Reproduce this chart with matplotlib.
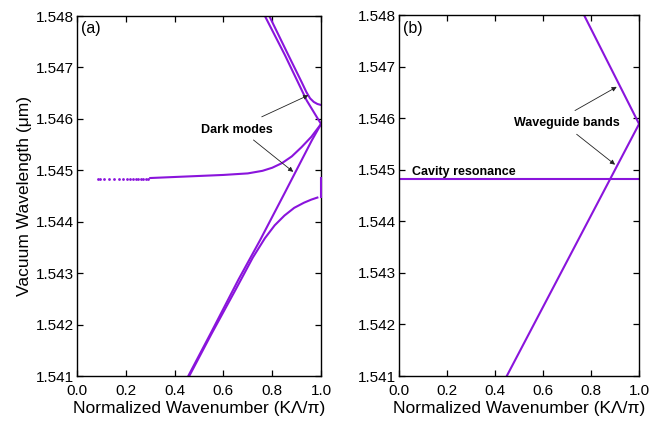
import matplotlib
matplotlib.use("Agg")
import matplotlib.pyplot as plt

plt.rcParams['font.family'] = ['Liberation Sans', 'DejaVu Sans']

PURPLE = '#8A14DC'

# ---------------- data: panel (a) ----------------
a_line1_k = [0.456, 0.55, 0.661, 0.75, 0.85, 0.962, 1.0]
a_line1_l = [1.5410, 1.54185, 1.54287, 1.54364, 1.54455, 1.54558, 1.5459]

a_line2_k = [0.46, 0.55, 0.65, 0.72, 0.77, 0.81, 0.85, 0.89, 0.93, 0.96, 0.985]
a_line2_l = [1.5410, 1.54181, 1.54268, 1.5433, 1.54368, 1.54393, 1.54412,
             1.54427, 1.54437, 1.54443, 1.54447]

a_mid_dots_k = [0.085, 0.094, 0.112, 0.132, 0.153, 0.173, 0.19, 0.204, 0.217,
                0.231, 0.242, 0.251, 0.261, 0.272, 0.283, 0.292]
a_mid_dots_l = [1.54484] * len(a_mid_dots_k)

a_mid_k = [0.30, 0.4, 0.5, 0.6, 0.7, 0.76, 0.8, 0.84, 0.88, 0.92, 0.96, 1.0]
a_mid_l = [1.54485, 1.54487, 1.54489, 1.54491, 1.54494, 1.54499, 1.54505,
           1.54514, 1.54527, 1.54545, 1.54565, 1.5459]

a_upA_k = [0.770, 0.852, 0.941, 1.0]
a_upA_l = [1.5480, 1.54724, 1.54636, 1.5459]

a_upB_k = [0.788, 0.866, 0.921, 0.94, 0.955, 0.97, 0.985, 1.0]
a_upB_l = [1.5480, 1.54724, 1.54671, 1.54652, 1.5464, 1.54633, 1.54629, 1.54627]

a_edge_k = [1.0, 1.0]
a_edge_l = [1.54448, 1.54485]

# ---------------- data: panel (b) ----------------
b_cav_k = [0.0, 1.0]
b_cav_l = [1.54482, 1.54482]

b_wg_k = [0.449, 1.0, 0.771]
b_wg_l = [1.5410, 1.54589, 1.5480]

x_ticks = [0.0, 0.2, 0.4, 0.6, 0.8, 1.0]
y_ticks = [1.541, 1.542, 1.543, 1.544, 1.545, 1.546, 1.547, 1.548]

fig = plt.figure(figsize=(6.56, 4.22), dpi=100)
axa = fig.add_axes([0.1174, 0.109, 0.372, 0.853])
axb = fig.add_axes([0.6082, 0.109, 0.366, 0.855])

LW = 1.5

def style(ax):
    ax.set_xlim(0, 1)
    ax.set_ylim(1.541, 1.548)
    ax.set_xticks(x_ticks)
    ax.set_xticklabels([f"{v:.1f}" for v in x_ticks])
    ax.set_yticks(y_ticks)
    ax.set_yticklabels([f"{v:.3f}" for v in y_ticks])
    ax.tick_params(direction='in', top=True, right=True, length=4.5, width=0.9,
                   labelsize=11)
    ax.tick_params(axis='x', pad=6)
    ax.tick_params(axis='y', pad=2)
    for s in ax.spines.values():
        s.set_linewidth(1.0)
    ax.set_xlabel('Normalized Wavenumber (K\u039b/\u03c0)', fontsize=12.5, labelpad=2)

# panel (a)
style(axa)
axa.plot(a_line1_k, a_line1_l, color=PURPLE, lw=LW)
axa.plot(a_line2_k, a_line2_l, color=PURPLE, lw=LW)
axa.plot(a_mid_dots_k, a_mid_dots_l, linestyle='none', marker='o', ms=2.0,
         color=PURPLE, markeredgewidth=0)
axa.plot(a_mid_k, a_mid_l, color=PURPLE, lw=LW)
axa.plot(a_upA_k, a_upA_l, color=PURPLE, lw=LW)
axa.plot(a_upB_k, a_upB_l, color=PURPLE, lw=LW)
axa.plot(a_edge_k, a_edge_l, color=PURPLE, lw=LW, clip_on=False, zorder=3)
axa.set_ylabel('Vacuum Wavelength (\u03bcm)', fontsize=12.5, labelpad=3)
axa.text(0.015, 0.985, '(a)', transform=axa.transAxes, ha='left', va='top', fontsize=11.5)
axa.text(0.656, 1.54578, 'Dark modes', ha='center', va='center', fontsize=9,
         fontweight='bold')
arrow = dict(arrowstyle='-|>', lw=0.6, color='#222222', mutation_scale=7,
             shrinkA=0, shrinkB=0)
axa.annotate('', xy=(0.948, 1.54646), xytext=(0.757, 1.54604), arrowprops=arrow)
axa.annotate('', xy=(0.886, 1.54497), xytext=(0.723, 1.54559), arrowprops=arrow)

# panel (b)
style(axb)
axb.plot(b_cav_k, b_cav_l, color=PURPLE, lw=LW)
axb.plot(b_wg_k, b_wg_l, color=PURPLE, lw=LW)
axb.text(0.015, 0.985, '(b)', transform=axb.transAxes, ha='left', va='top', fontsize=11.5)
axb.text(0.701, 1.54591, 'Waveguide bands', ha='center', va='center', fontsize=9,
         fontweight='bold')
axb.text(0.268, 1.54496, 'Cavity resonance', ha='center', va='center', fontsize=9,
         fontweight='bold')
axb.annotate('', xy=(0.907, 1.54661), xytext=(0.733, 1.54615), arrowprops=arrow)
axb.annotate('', xy=(0.90, 1.5451), xytext=(0.740, 1.54569), arrowprops=arrow)

fig.savefig('out.png', dpi=100)
